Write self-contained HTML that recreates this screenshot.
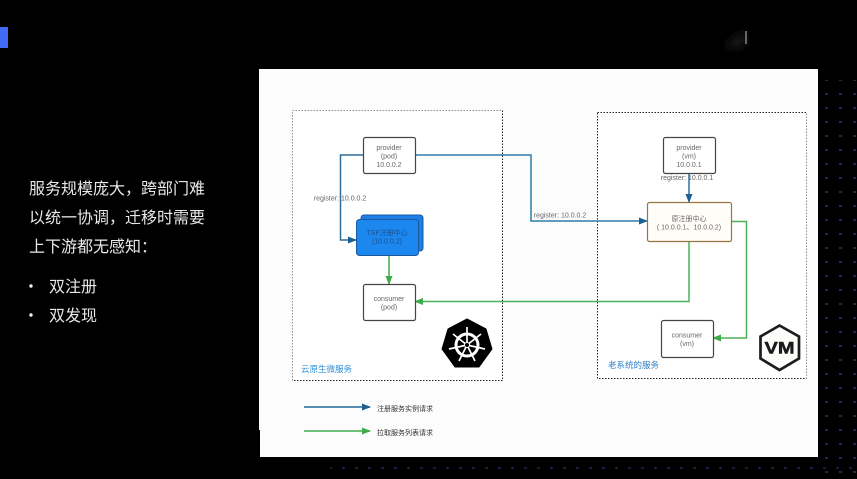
<!DOCTYPE html>
<html><head><meta charset="utf-8"><style>
html,body{margin:0;padding:0;background:#000;width:857px;height:479px;overflow:hidden}
svg{display:block}
text{font-family:"Liberation Sans","Noto Sans CJK SC",sans-serif}
</style></head><body>
<svg width="857" height="479" viewBox="0 0 857 479" xmlns="http://www.w3.org/2000/svg">
<defs>
<filter id="s" x="0" y="0" width="100%" height="100%"><feGaussianBlur stdDeviation="0.35"/></filter>
<filter id="w" x="-20%" y="-100%" width="140%" height="300%"><feGaussianBlur stdDeviation="5"/></filter>
<pattern id="d" width="14" height="14" patternUnits="userSpaceOnUse" x="820" y="60"><rect x="5" y="5" width="3" height="2" fill="#20265c"/></pattern>
<pattern id="d2" width="13" height="12" patternUnits="userSpaceOnUse" x="0" y="462"><rect x="4" y="5" width="3" height="2" fill="#1a1d42"/></pattern>
<marker id="b" markerWidth="9" markerHeight="7" refX="8" refY="3.5" orient="auto" markerUnits="userSpaceOnUse"><path d="M0 0L9 3.5L0 7z" fill="#1f5f93"/></marker>
<marker id="g" markerWidth="9" markerHeight="7" refX="8" refY="3.5" orient="auto" markerUnits="userSpaceOnUse"><path d="M0 0L9 3.5L0 7z" fill="#3cac48"/></marker>
</defs>
<rect width="857" height="479" fill="#000"/>
<rect x="820" y="80" width="37" height="399" fill="url(#d)"/>
<rect x="330" y="462" width="527" height="17" fill="url(#d2)"/>
<rect x="0" y="27" width="8" height="21" fill="#3f6bf5"/>
<path d="M722 47L745 30V47z" fill="#1c1c1c" filter="url(#w)"/>
<rect x="745" y="31" width="2" height="13" fill="#666"/>
<path d="M259 69H818V457H260V430H259z" fill="#fcfcfc"/>
<g filter="url(#s)">
<rect x="292.500" y="110.500" width="210" height="270" fill="#fff" stroke="#222" stroke-dasharray="1.500 1.500"/>
<rect x="597.500" y="112.500" width="209" height="266" fill="#fff" stroke="#222" stroke-dasharray="1.500 1.500"/>

<g fill="none" stroke-width="1.500">
<path d="M363 155H340.500V240H356" stroke="#2f6e9c" marker-end="url(#b)"/>
<path d="M415 155H531V221H647" stroke="#2f7ba8" marker-end="url(#b)"/>
<path d="M689 173V202" stroke="#2f6e9c" marker-end="url(#b)"/>
<path d="M389 255V284" stroke="#3cac48" marker-end="url(#g)"/>
<path d="M689 241V301.500H415" stroke="#4cb058" marker-end="url(#g)"/>
<path d="M731 221.500H746.500V338H713" stroke="#4cb058" marker-end="url(#g)"/>
<path d="M304 407H370" stroke="#3f7ca6" stroke-width="1.700" marker-end="url(#b)"/>
<path d="M304 431H370" stroke="#5cb868" stroke-width="1.700" marker-end="url(#g)"/>
</g>

<g fill="#fff" stroke="#444" stroke-width="1.200">
<rect x="363.500" y="137.500" width="52" height="36" rx="2"/>
<rect x="363.500" y="284.500" width="52" height="36" rx="2"/>
<rect x="663.500" y="137.500" width="52" height="36" rx="2"/>
<rect x="661.500" y="320.500" width="52" height="37" rx="2"/>
</g>
<rect x="647.500" y="202.500" width="84" height="39" rx="2" fill="#fffdf8" stroke="#96743f" stroke-width="1.200"/>
<rect x="361" y="215" width="62" height="36" rx="3" fill="#1f7fe6" stroke="#1c5a9e"/>
<rect x="356.500" y="219.500" width="62" height="36" rx="3" fill="#1f87ee" stroke="#1c5a9e"/>

<g font-size="7" fill="#666" text-anchor="middle">
<text x="389" y="150">provider</text>
<text x="389" y="158.500">(pod)</text>
<text x="389" y="167">10.0.0.2</text>
<text x="389" y="301">consumer</text>
<text x="389" y="309.500">(pod)</text>
<text x="689" y="150">provider</text>
<text x="689" y="158.500">(vm)</text>
<text x="689" y="167">10.0.0.1</text>
<text x="687" y="337.500">consumer</text>
<text x="687" y="346">(vm)</text>
<text x="689" y="221">原注册中心</text>
<text x="689" y="229.500">( 10.0.0.1、10.0.0.2)</text>
<text x="340" y="200.500">register: 10.0.0.2</text>
<text x="560" y="217.500">register: 10.0.0.2</text>
<text x="687" y="180">register: 10.0.0.1</text>
<g fill="#1a4f8a">
<text x="387" y="235">TSF注册中心</text>
<text x="387" y="243.500">(10.0.0.2)</text>
</g>
</g>
<text x="301" y="372" font-size="8.500" fill="#2f8fd8">云原生微服务</text>
<text x="608" y="368" font-size="8.500" fill="#2f7fc8">老系统的服务</text>
<text x="377" y="411" font-size="7" fill="#333">注册服务实例请求</text>
<text x="377" y="435" font-size="7" fill="#333">拉取服务列表请求</text>

<!-- Kubernetes -->
<path d="M467 319L486 329L492 349L479 367H455L442 349L448 329z" fill="#000" stroke="#000" stroke-linejoin="round"/>
<g stroke="#fff" fill="none">
<circle cx="467" cy="345" r="11" stroke-width="3"/>
<g stroke-width="1.700">
<path d="M467 327V345"/><path d="M453 334L467 345L481 334"/>
<path d="M449 349L467 345L485 349"/>
<path d="M459 361L467 345L475 361"/>
</g>
</g>
<circle cx="467" cy="345" r="2.500" fill="#000" stroke="#fff"/>

<!-- VM -->
<path d="M779.500 325.500L799 336.500V358.500L779.500 370L760.500 358.500V336.500z" fill="#fcfcfa" stroke="#1a1a1a" stroke-width="2.700"/>
<text x="779.500" y="353.500" font-size="17" font-weight="bold" fill="#1a1a1a" stroke="#1a1a1a" stroke-width="0.500" text-anchor="middle" textLength="30" lengthAdjust="spacingAndGlyphs">VM</text>
</g>

<g font-size="16" fill="#e8e8e8">
<text x="29" y="194">服务规模庞大，跨部门难</text>
<text x="29" y="223">以统一协调，迁移时需要</text>
<text x="29" y="252">上下游都无感知：</text>
<text x="49" y="292">双注册</text>
<text x="49" y="321">双发现</text>
</g>
<circle cx="31" cy="286" r="1.700" fill="#eee"/>
<circle cx="31" cy="315" r="1.700" fill="#eee"/>
</svg>
</body></html>
